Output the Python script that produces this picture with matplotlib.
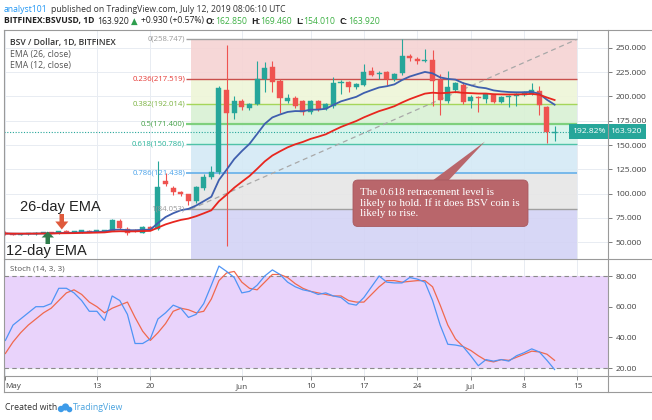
import numpy as np
import pandas as pd
import matplotlib
matplotlib.use("Agg")
import matplotlib.pyplot as plt
from matplotlib.patches import FancyBboxPatch, Polygon, Circle
from matplotlib.transforms import blended_transform_factory

plt.rcParams['font.family'] = ['Open Sans', 'DejaVu Sans']

# ---- values (BITFINEX:BSVUSD, 1D), day 0 = May 1 2019
opens = [60.0, 59.0, 58.0, 58.5, 59.0, 59.5, 60.0, 59.5, 61.5, 60.5,
         60.5, 62.0, 61.0, 62.0, 62.0, 72.0, 64.0, 62.5, 60.0, 65.5,
         64.0, 113.0, 105.5, 101.5, 99.5, 92.0, 106.0, 117.0, 122.0, 207.0,
         183.0, 195.0, 188.0, 192.0, 217.5, 230.0, 216.0, 195.0, 198.5, 195.5,
         184.0, 195.0, 187.0, 190.0, 213.5, 215.0, 210.0, 212.0, 226.0, 223.0,
         225.0, 218.0, 224.0, 242.0, 238.5, 237.0, 238.0, 217.0, 195.0, 207.0,
         212.0, 195.0, 199.5, 197.0, 202.0, 194.0, 199.0, 201.0, 202.0, 203.0,
         206.0, 189.0, 162.85]
highs = [61.5, 60.0, 59.5, 60.0, 60.5, 61.0, 61.0, 62.0, 62.5, 61.5,
         63.0, 63.0, 63.0, 63.0, 74.0, 74.0, 65.5, 64.0, 66.5, 66.5,
         134.0, 121.0, 108.0, 103.0, 100.0, 108.0, 120.0, 128.0, 211.0, 253.0,
         200.0, 197.0, 193.0, 237.0, 235.0, 236.0, 218.0, 203.0, 200.0, 196.0,
         196.0, 196.0, 193.0, 220.0, 217.0, 216.0, 214.0, 233.0, 230.0, 226.0,
         226.0, 224.0, 258.7, 244.0, 241.0, 249.0, 248.0, 223.0, 226.0, 215.0,
         215.0, 202.0, 200.5, 204.0, 203.0, 200.0, 202.0, 204.0, 205.5, 214.0,
         211.0, 190.0, 169.46]
lows = [58.0, 57.0, 57.0, 57.5, 58.0, 58.5, 58.5, 59.0, 60.0, 59.5,
        60.0, 60.5, 60.5, 61.0, 61.5, 63.5, 57.5, 61.0, 59.5, 63.0,
        63.0, 108.0, 99.0, 98.0, 88.0, 90.0, 104.0, 115.0, 120.0, 46.0,
        176.5, 186.0, 186.0, 191.0, 205.0, 205.0, 183.0, 193.0, 188.0, 181.0,
        182.0, 185.0, 186.0, 188.0, 203.0, 205.0, 208.0, 211.0, 221.0, 218.0,
        212.0, 216.0, 222.0, 236.0, 233.0, 235.0, 190.0, 181.0, 193.0, 205.0,
        192.0, 188.0, 184.0, 193.0, 193.0, 193.0, 189.5, 190.0, 201.0, 202.0,
        181.0, 152.0, 154.01]
closes = [59.0, 58.0, 58.5, 59.0, 59.5, 60.0, 59.5, 61.5, 60.5, 60.5,
          62.5, 61.0, 62.5, 62.8, 72.5, 64.5, 59.5, 61.5, 65.5, 64.0,
          107.0, 110.0, 101.5, 100.0, 92.0, 106.5, 117.0, 122.0, 209.0, 183.0,
          195.5, 189.0, 192.0, 217.5, 229.0, 215.0, 198.0, 198.5, 190.0, 184.0,
          195.0, 187.0, 192.0, 213.5, 215.0, 210.0, 212.5, 225.5, 222.5, 224.5,
          217.5, 223.0, 241.5, 240.0, 236.5, 238.0, 216.0, 196.5, 209.5, 213.5,
          194.0, 199.5, 198.0, 203.0, 194.0, 199.5, 201.0, 203.0, 204.5, 207.0,
          191.5, 163.0, 163.92]
stoch_k = [38, 48, 52, 56, 60, 60, 62, 72, 72, 69,
           64, 57, 57, 51, 67, 64, 55, 36, 36, 39,
           52, 56, 61, 59, 53, 55, 62, 74, 86.5, 83,
           79, 69, 70, 74, 80, 84, 81, 76, 73, 71,
           70, 68, 69, 67, 66, 62, 61, 66, 73, 80,
           76, 75.5, 75.5, 79, 78, 76, 64, 48, 35.5, 35,
           34, 28, 21.5, 25.5, 24.5, 25.5, 24.5, 28, 30, 32.5,
           30.5, 25, 19]
stoch_d = [29.5, 37, 43, 48, 52, 56, 59, 64, 69, 71,
           68, 63, 60, 56, 59, 61, 63, 53, 44, 38,
           43, 49, 57, 59, 58, 56, 57, 65, 77, 82,
           83, 76, 72, 71, 76, 81, 81, 79, 75, 72,
           70, 69, 68, 67, 67, 64, 63, 63, 68, 73,
           77, 77, 76, 76.5, 77, 77, 73, 61, 48, 39,
           34, 31.5, 28, 25, 24, 25.5, 25, 27, 29, 31,
           30.5, 29, 25]
fib_ratios = ["0", "0.236", "0.382", "0.5", "0.618", "0.786", "1"]
fib_prices = [258.747, 217.519, 192.014, 171.400, 150.786, 121.438, 84.053]
price_ticks = [50, 75, 100, 125, 150, 175, 200, 225, 250]
stoch_ticks = [20, 40, 60, 80]
date_ticks = [0, 12, 19, 31, 40, 47, 54, 61, 68, 75]
date_labels = ["May", "13", "20", "Jun", "10", "17", "24", "Jul", "8", "15"]
last_price = 163.920
change_pct = "192.82%"

days = np.arange(len(closes))
ema26 = pd.Series(closes).ewm(span=26, adjust=False).mean()
ema12 = pd.Series(closes).ewm(span=12, adjust=False).mean()

W, H = 652, 420
fig = plt.figure(figsize=(W / 100, H / 100), dpi=100)
fig.patch.set_facecolor('white')

L, R = 4, 608
T_MAIN, B_MAIN, B_STOCH, B_DATE = 30, 259, 375.7, 392
ax = fig.add_axes([L / W, 1 - B_MAIN / H, (R - L) / W, (B_MAIN - T_MAIN) / H])
ax2 = fig.add_axes([L / W, 1 - B_STOCH / H, (R - L) / W, (B_STOCH - B_MAIN) / H])
for a in (ax, ax2):
    a.set_xlim(-0.18, 79.0)
    for s in a.spines.values():
        s.set_visible(False)
    a.set_xticks(date_ticks)
    a.grid(True, color='#e8ecf2', lw=0.7, zorder=0)
    a.set_axisbelow(True)
    a.yaxis.tick_right()
    a.tick_params(axis='y', length=3, width=0.6, color='#666', pad=2.5,
                  labelsize=6.1, labelcolor='#444')
ax.set_ylim(32.8, 268.4)
ax.set_yticks(price_ticks)
ax.set_yticklabels([f"{v:.3f}" for v in price_ticks])
ax.tick_params(axis='x', bottom=False, labelbottom=False)

# fibonacci retracement
fx0, fx1 = 24.3, 74.9
fill_cols = ['#f6d3d3', '#eef5d8', '#d9f1d4', '#d4f4ea', '#d4e9f5', '#e6e6e6']
line_cols = ['#a0a0a0', '#c9504c', '#a5d65a', '#7ed07e', '#4fc3a8', '#6fb4ea', '#a0a0a0']
line_w = [1.0, 1.0, 1.0, 1.6, 1.0, 1.3, 1.0]
text_cols = ['#9a9a9a', '#e53935', '#7cb342', '#43a047', '#2bb59a', '#4aa3ea', '#9a9a9a']
for i in range(len(fib_prices) - 1):
    ax.fill_between([fx0, fx1], fib_prices[i + 1], fib_prices[i],
                    color=fill_cols[i], lw=0, zorder=1, alpha=0.9)
ax.fill_between([fx0, fx1], 32.8, fib_prices[-1], color='#d3d3f5', lw=0, zorder=1, alpha=0.9)
for p, r, lc, lw, tc in zip(fib_prices, fib_ratios, line_cols, line_w, text_cols):
    ax.hlines(p, fx0 - 0.6, fx1, color=lc, lw=lw, zorder=2)
    ax.text(fx0 - 0.75, p, f"{r}({p:.3f})", ha='right', va='center',
            fontsize=5.6, color=tc, zorder=5)
ax.plot([fx0, fx1], [fib_prices[-1], fib_prices[0]], ls=(0, (4, 3)),
        color='#a8a8a8', lw=0.9, zorder=2)

# candles
up_c, dn_c = '#26a69a', '#ef5350'
for d, o, h, l, c in zip(days, opens, highs, lows, closes):
    col = up_c if c >= o else dn_c
    ax.vlines(d, l, h, color=col, lw=0.8, zorder=3)
    lo, hi = min(o, c), max(o, c)
    ax.bar(d, max(hi - lo, 0.9), bottom=lo, width=0.66, color=col,
           edgecolor=col, lw=0.3, zorder=3)

ax.plot(days, ema12, color='#3f5fae', lw=1.3, zorder=4)
ax.plot(days, ema26, color='#e8261f', lw=1.3, zorder=4)
ax.axhline(last_price, color='#26a69a', ls=(0, (1, 1.5)), lw=0.8, zorder=2)

bt = blended_transform_factory(ax.transAxes, ax.transData)
ax.text(1.004, last_price, f"{last_price:.3f}", transform=bt, ha='left', va='center',
        fontsize=6.1, color='white', clip_on=False, zorder=6,
        bbox=dict(boxstyle='square,pad=0.45', fc='#26a69a', ec='none'))
ax.text(0.9965, last_price, change_pct, transform=bt, ha='right', va='center',
        fontsize=6.1, color='white', zorder=6,
        bbox=dict(boxstyle='square,pad=0.45', fc='#26a69a', ec='none'))

# stochastic
ax2.set_ylim(15.0, 91.1)
ax2.set_yticks(stoch_ticks)
ax2.set_yticklabels([f"{v:.2f}" for v in stoch_ticks])
ax2.axhspan(20, 80, color='#e9d3fb', lw=0, zorder=1)
for v in (20, 80):
    ax2.axhline(v, color='#8a8a8a', ls=(0, (4, 3)), lw=0.8, zorder=2)
ax2.plot(days, stoch_d, color='#f0694e', lw=0.9, zorder=3)
ax2.plot(days, stoch_k, color='#4f94f5', lw=0.9, zorder=3)
ax2.set_xticklabels(date_labels)
ax2.tick_params(axis='x', length=3, width=0.6, color='#666', pad=2.5,
                labelsize=5.9, labelcolor='#444')
ax2.get_xticklabels()[0].set_horizontalalignment('left')

# overlay in pixel units
ov = fig.add_axes([0, 0, 1, 1], zorder=10)
ov.set_xlim(0, W)
ov.set_ylim(H, 0)
ov.axis('off')
ov.patch.set_alpha(0)

fc = '#9a9a9a'
for y in (T_MAIN, B_MAIN, B_STOCH, B_DATE):
    ov.plot([L, W], [y, y], color=fc, lw=0.8)
for x in (L, R):
    ov.plot([x, x], [T_MAIN, B_DATE], color=fc, lw=0.8)

renderer = fig.canvas.get_renderer()

# header
t = ov.text(4, 9, "analyst101", color='#2196f3', fontsize=6.2, va='center')
hx = 4 + t.get_window_extent(renderer=renderer).width + 3
ov.text(hx, 9, "published on TradingView.com, July 12, 2019 08:06:10 UTC",
        color='#333333', fontsize=6.2, va='center')
header2 = [(4, "BITFINEX:BSVUSD, 1D", '#222222', 'bold'),
           (97, "163.920", '#222222', 'normal'),
           (131, "\u25B2", '#2e9e4e', 'normal'),
           (141, "+0.930 (+0.57%)", '#222222', 'normal'),
           (205, "O:", '#222222', 'bold'), (213, "162.850", '#3cb043', 'normal'),
           (251, "H:", '#222222', 'bold'), (259, "169.460", '#3cb043', 'normal'),
           (296, "L:", '#222222', 'bold'), (302, "154.010", '#3cb043', 'normal'),
           (339, "C:", '#222222', 'bold'), (348, "163.920", '#3cb043', 'normal')]
end = 0
for hx, s, col, wt in header2:
    x0 = max(hx, end + 2.0)
    t = ov.text(x0, 21, s, color=col, fontweight=wt, fontsize=6.2, va='center', ha='left')
    end = x0 + t.get_window_extent(renderer=renderer).width
    if s.endswith(":"):
        end -= 2.0

ov.text(10, 42.5, "BSV / Dollar, 1D, BITFINEX", fontsize=6.2, fontweight='semibold',
        color='#333333', va='center')
ov.text(10, 54, "EMA (26, close)", fontsize=6.2, color='#555555', va='center')
ov.text(10, 65.5, "EMA (12, close)", fontsize=6.2, color='#555555', va='center')
ov.text(10, 269, "Stoch (14, 3, 3)", fontsize=5.8, color='#555555', va='center')

# hand drawn notes
ov.text(20, 207, "26-day EMA", fontsize=10.5, family='Liberation Sans',
        color='#222222', va='center')
ov.text(6, 251.5, "12-day EMA", fontsize=10.5, family='Liberation Sans',
        color='#222222', va='center')
ov.add_patch(Polygon([(59.5, 214), (64, 214), (64, 221.5), (68.3, 221.5), (61.8, 229.5),
                      (55.3, 221.5), (59.5, 221.5)], closed=True, fc='#df5a3c', ec='none'))
ov.add_patch(Polygon([(45.5, 244), (50, 244), (50, 237.5), (54, 237.5), (47.8, 231.5),
                      (41.6, 237.5), (45.5, 237.5)], closed=True, fc='#2f7d4c', ec='none'))

box_c = '#b9666b'
ov.add_patch(Polygon([(432, 181), (448, 181), (485, 141.5)], closed=True, fc=box_c, ec='none'))
ov.add_patch(FancyBboxPatch((353, 180), 175, 46.5, boxstyle='round,pad=0,rounding_size=5',
                            fc=box_c, ec='#a85a60', lw=0.6))
note = "The 0.618 retracement level is\nlikely to hold. If it does BSV coin is\nlikely to rise."
ov.text(360, 203, note, fontsize=7.9, family='Liberation Serif', color='white',
        va='center', ha='left', linespacing=1.1)

# footer
ov.text(5, 408, "Created with", fontsize=6.3, color='#333333', va='center')
for cx, cy, r in [(61, 409, 3.2), (65.5, 407, 3.6), (69.5, 409.5, 2.8)]:
    ov.add_patch(Circle((cx, cy), r, fc='#3d9be9', ec='none'))
ov.text(73, 408, "TradingView", fontsize=6.3, color='#4aa3df', va='center')

fig.savefig("out.png", dpi=100)
